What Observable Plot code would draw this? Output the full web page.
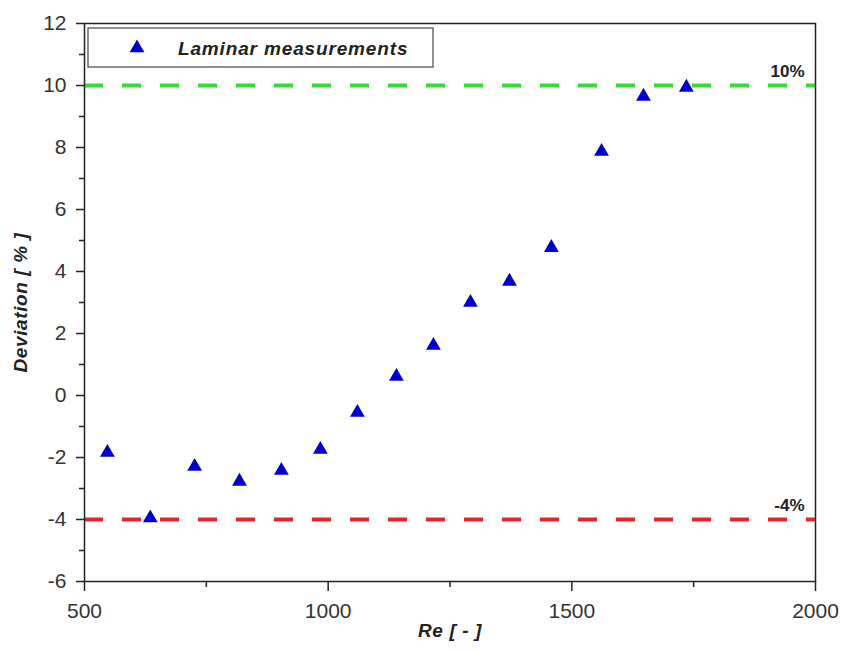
<!DOCTYPE html>
<html><head><meta charset="utf-8">
<script src="https://cdn.jsdelivr.net/npm/d3@7"></script>
<script src="https://cdn.jsdelivr.net/npm/@observablehq/plot@0.6"></script>
<style>body{margin:0;background:#fff;}</style>
</head><body><div id="chart"></div>
<script>
const reynolds = [547, 635, 726, 818, 904, 984, 1060, 1140, 1216, 1292, 1372, 1458, 1561, 1647, 1735];
const deviation = [-1.84, -3.95, -2.29, -2.77, -2.42, -1.74, -0.55, 0.61, 1.61, 3.0, 3.68, 4.77, 7.87, 9.65, 9.94];
const xTicks = [500, 1000, 1500, 2000];
const xMinor = [750, 1250, 1750];
const yTicks = [-6, -4, -2, 0, 2, 4, 6, 8, 10, 12];
const yMinor = [-5, -3, -1, 1, 3, 5, 7, 9, 11];
const limitValues = [10, -4];
const limitLabels = ["10%", "-4%"];
const limitColors = ["#33dd33", "#e3262b"];
const seriesName = "Laminar measurements";

const points = reynolds.map((r, i) => ({re: r, dev: deviation[i]}));
const limits = limitValues.map((v, i) => ({v, label: limitLabels[i], color: limitColors[i]}));

const font = "'Liberation Sans', Arial, sans-serif";
const fmt = d => String(d);
const chart = Plot.plot({
  width: 845, height: 652,
  marginLeft: 84, marginRight: 30, marginTop: 23, marginBottom: 71,
  style: {fontFamily: font, background: "#fff"},
  x: {domain: [500, 2000]},
  y: {domain: [-6, 12]},
  marks: [
    Plot.ruleY(limits, {y: "v", stroke: "color", strokeWidth: 4, strokeDasharray: "19,19"}),
    Plot.text(limits, {x: () => 2000, y: "v", text: "label", textAnchor: "end", dx: -11, dy: -14,
      fontSize: 17, fontWeight: "bold", fill: "#222"}),
    Plot.dot(points, {x: "re", y: "dev", symbol: "triangle", r: 5.5, fill: "#0000cc", stroke: "none"}),
    Plot.frame({stroke: "#222", strokeWidth: 1.5}),
    Plot.axisX(xTicks, {tickSize: 10, tickPadding: 12, fontSize: 21, tickFormat: fmt, label: null, stroke: "#222", color: "#333", strokeWidth: 1.5}),
    Plot.axisX(xMinor, {tickSize: 6, tickFormat: () => "", label: null, stroke: "#222", strokeWidth: 1.5}),
    Plot.axisY(yTicks, {tickSize: 8, tickPadding: 10, fontSize: 21, tickFormat: fmt, label: null, stroke: "#222", color: "#333", strokeWidth: 1.5}),
    Plot.axisY(yMinor, {tickSize: 5, tickFormat: () => "", label: null, stroke: "#222", strokeWidth: 1.5}),
    Plot.text(["Re [ - ]"], {frameAnchor: "bottom", dy: 55, fontSize: 19, fontWeight: "bold", fontStyle: "italic", fill: "#222"}),
    Plot.text(["Deviation [ % ]"], {frameAnchor: "left", textAnchor: "middle", dx: -64, rotate: -90, fontSize: 19, fontWeight: "bold", fontStyle: "italic", fill: "#222"})
  ]
});
document.getElementById("chart").appendChild(chart);
d3.select(chart).selectAll("text").filter(function() { return this.textContent === "Deviation [ % ]" || this.textContent === "Re [ - ]"; })
  .attr("letter-spacing", "0.6px");

// legend
const svg = d3.select(chart);
const lg = svg.append("g");
lg.append("rect").attr("x", 88).attr("y", 28).attr("width", 345).attr("height", 39)
  .attr("fill", "#fff").attr("stroke", "#555").attr("stroke-width", 1.3);
lg.append("path").attr("d", d3.symbol(d3.symbolTriangle, Math.PI * 5.5 * 5.5)())
  .attr("transform", "translate(137,48)").attr("fill", "#0000cc");
lg.append("text").attr("x", 178).attr("y", 48).attr("dy", "0.35em").attr("text-anchor", "start")
  .attr("font-family", font).attr("font-size", 19).attr("font-weight", "bold").attr("font-style", "italic")
  .attr("letter-spacing", 0.85).attr("fill", "#222").text(seriesName);
</script>
</body></html>
